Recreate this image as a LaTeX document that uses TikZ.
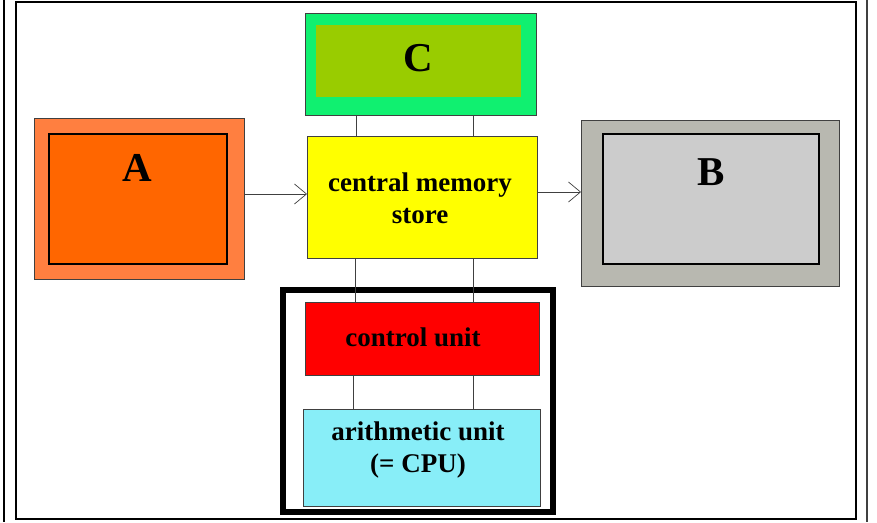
\documentclass[tikz,border=0pt]{standalone}
\usepackage{fontspec}
\setmainfont{Liberation Serif}
\usetikzlibrary{arrows.meta}
\definecolor{aout}{HTML}{FF7F40}
\definecolor{ain}{HTML}{FF6600}
\definecolor{bout}{HTML}{B8B8B0}
\definecolor{bin}{HTML}{CCCCCC}
\definecolor{cout}{HTML}{10F070}
\definecolor{cin}{HTML}{99CC00}
\definecolor{memc}{HTML}{FFFF00}
\definecolor{ctrlc}{HTML}{FF0000}
\definecolor{arithc}{HTML}{88EEF8}
\definecolor{edge}{HTML}{404040}
\tikzset{
  box/.style={draw=edge, line width=0.9pt, inner sep=0pt, outer sep=0pt},
  innerbox/.style={draw=black, line width=2pt, inner sep=0pt, outer sep=0pt},
  bigletter/.style={font=\fontsize{41}{41}\selectfont\bfseries, inner sep=0pt},
  boxtext/.style={font=\fontsize{27}{32}\selectfont\bfseries, align=center, inner sep=0pt},
  link/.style={draw=edge, line width=0.9pt},
  flow/.style={draw=edge, line width=0.9pt, -{Straight Barb[length=12pt,width=20pt,line width=0.7pt]}},
}
\begin{document}
\begin{tikzpicture}[x=1pt,y=-1pt]
\useasboundingbox (0,0) rectangle (877,522);
% page frame
\draw[line width=1.5pt] (16,2) rectangle (856,519);
\draw[line width=1.3pt] (4,0) -- (4,522);
\draw[line width=1.3pt, draw=edge] (867,0) -- (867,522);
% A
\node[box, fill=aout, minimum width=210, minimum height=161] (Aout) at (139,198.5) {};
\node[innerbox, fill=ain, minimum width=178, minimum height=130] (Ain) at (138,199) {};
\node[bigletter] (Alab) at (137,168) {A};
% B
\node[box, fill=bout, minimum width=258, minimum height=166] (Bout) at (710,203) {};
\node[innerbox, fill=bin, minimum width=216, minimum height=130] (Bin) at (711,199) {};
\node[bigletter] (Blab) at (711,172) {B};
% C
\node[box, fill=cout, minimum width=231, minimum height=102] (Cout) at (421,64) {};
\node[inner sep=0pt, outer sep=0pt, fill=cin, minimum width=205, minimum height=72] (Cin) at (418.5,61) {};
\node[bigletter] (Clab) at (418,58) {C};
% central memory
\node[box, fill=memc, minimum width=230, minimum height=122] (Mem) at (422,197) {};
\node[boxtext] (Memlab) at (420,198) {central memory\\store};
% CPU frame
\node[draw=black, line width=5.5pt, inner sep=0pt, outer sep=0pt, minimum width=270, minimum height=222] (CPU) at (418,401) {};
% control unit
\node[box, fill=ctrlc, minimum width=234, minimum height=73] (Ctrl) at (422,338.5) {};
\node[boxtext] (Ctrllab) at (413,337) {control unit};
% arithmetic unit
\node[box, fill=arithc, minimum width=237, minimum height=97] (Arith) at (421.5,457.5) {};
\node[boxtext] (Arithlab) at (418,450) {arithmetic unit\\(= CPU)};
% connectors
\draw[link] (Cout.south -| 356,0) -- (Mem.north -| 356,0);
\draw[link] (Cout.south -| 473,0) -- (Mem.north -| 473,0);
\draw[link] (Mem.south -| 355,0) -- (Ctrl.north -| 355,0);
\draw[link] (Mem.south -| 473,0) -- (Ctrl.north -| 473,0);
\draw[link] (Ctrl.south -| 353,0) -- (Arith.north -| 353,0);
\draw[link] (Ctrl.south -| 473,0) -- (Arith.north -| 473,0);
\draw[flow] (Aout.east |- 0,194) -- (Mem.west |- 0,194);
\draw[flow] (Mem.east |- 0,192) -- (Bout.west |- 0,192);
\end{tikzpicture}
\end{document}
